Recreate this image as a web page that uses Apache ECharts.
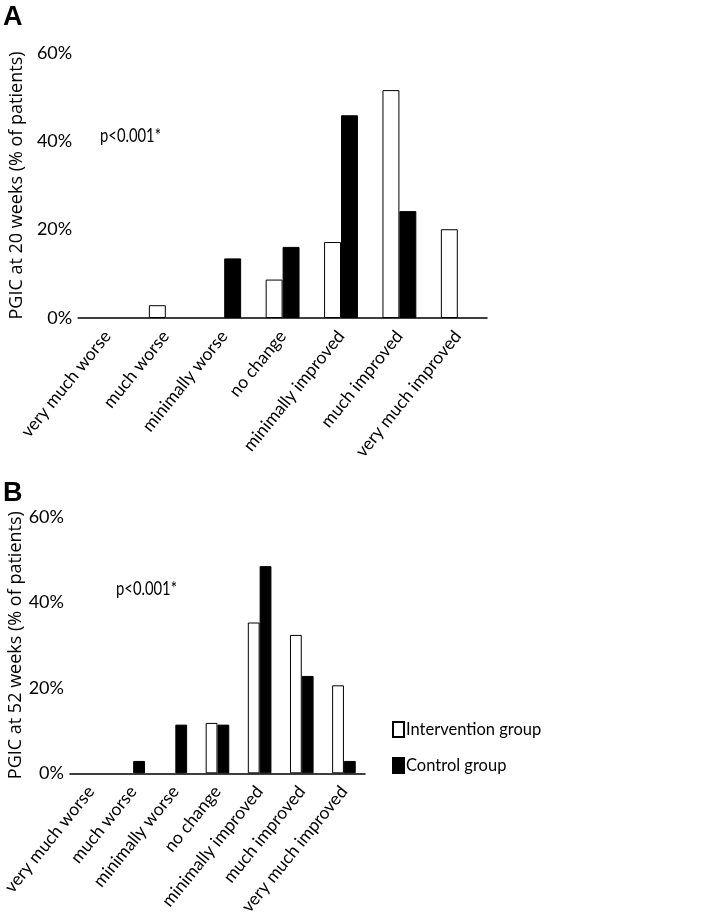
<!DOCTYPE html>
<html><head><meta charset="utf-8">
<script src="https://cdn.jsdelivr.net/npm/echarts@6/dist/echarts.min.js"></script>
<style>html,body{margin:0;padding:0;background:#fff}#c{width:709px;height:918px}</style>
</head><body><div id="c"></div>
<script>
const categories = ['very much worse','much worse','minimally worse','no change','minimally improved','much improved','very much improved'];
const yTicks = [0, 20, 40, 60];
const interventionA = [0, 2.9, 0, 8.7, 17.2, 51.6, 20.1];
const controlA = [0, 0, 13.5, 16.1, 45.9, 24.2, 0];
const interventionB = [0, 0, 0, 11.8, 35.3, 32.4, 20.6];
const controlB = [0, 2.9, 11.4, 11.4, 48.5, 22.8, 2.9];
const seriesNames = ['Intervention group', 'Control group'];
const yTitles = ['PGIC at 20 weeks (% of patients)', 'PGIC at 52 weeks (% of patients)'];
const pText = 'p<0.001*';

const HUM = 'Lato, "Open Sans", sans-serif';
const chart = echarts.init(document.getElementById('c'), null, {renderer:'canvas'});

// zero-height bars are not drawn in the reference
const nz = arr => arr.map(v => (v === 0 ? null : v));

function xAx(i){
  return {type:'category', gridIndex:i, data:categories,
    axisLine:{lineStyle:{color:'#000', width:1.5}}, axisTick:{show:false},
    axisLabel:{rotate:51, interval:0, color:'#000', fontFamily:HUM, fontSize:17.5, margin:15}};
}
function yAx(i){
  return {type:'value', gridIndex:i, min:yTicks[0], max:yTicks[yTicks.length-1], interval:20,
    axisLine:{show:false}, axisTick:{show:false}, splitLine:{show:false},
    axisLabel:{formatter:'{value}%', color:'#000', fontFamily:HUM, fontSize:18, margin:6},
    name:yTitles[i], nameLocation:'middle', nameRotate:90, nameGap:40,
    nameTextStyle:{fontFamily:'"Open Sans", sans-serif', fontSize:18, color:'#000'}};
}
const white = {color:'#fff', borderColor:'#000', borderWidth:1};
const black = {color:'#000', borderColor:'#000', borderWidth:1};

chart.setOption({
  animation:false,
  grid:[
    {left:63, top:53, width:424, height:265},
    {left:63, top:517, width:302, height:263}
  ],
  xAxis:[xAx(0), xAx(1)],
  yAxis:[yAx(0), yAx(1)],
  legend:{data:[seriesNames[0], seriesNames[1]], orient:'vertical', left:387, top:716,
    icon:'rect', itemWidth:11, itemHeight:15, itemGap:19,
    textStyle:{fontFamily:HUM, fontSize:16.5, color:'#000', padding:[0,0,0,-3]}},
  graphic:[
    {type:'text', left:3, top:4, style:{text:'A', font:'bold 27px "Liberation Sans", Arial, sans-serif', fill:'#000'}},
    {type:'text', left:3, top:480, style:{text:'B', font:'bold 27px "Liberation Sans", Arial, sans-serif', fill:'#000'}},
    {type:'text', x:100, y:126, scaleX:0.74, style:{text:pText, font:'20px ' + HUM, fill:'#000'}},
    {type:'text', x:116, y:579, scaleX:0.74, style:{text:pText, font:'20px ' + HUM, fill:'#000'}}
  ],
  series:[
    {name:seriesNames[0], type:'bar', xAxisIndex:0, yAxisIndex:0, data:nz(interventionA), itemStyle:white, barGap:'0%', barCategoryGap:'42%'},
    {name:seriesNames[1], type:'bar', xAxisIndex:0, yAxisIndex:0, data:nz(controlA), itemStyle:black, barGap:'0%', barCategoryGap:'42%'},
    {name:seriesNames[0], type:'bar', xAxisIndex:1, yAxisIndex:1, data:nz(interventionB), itemStyle:white, barGap:'0%', barCategoryGap:'44%'},
    {name:seriesNames[1], type:'bar', xAxisIndex:1, yAxisIndex:1, data:nz(controlB), itemStyle:black, barGap:'0%', barCategoryGap:'44%'}
  ]
});
</script></body></html>
